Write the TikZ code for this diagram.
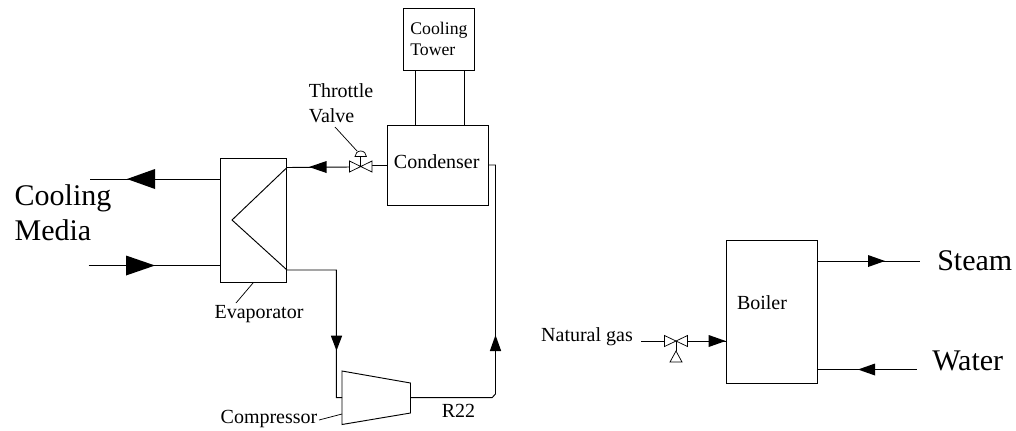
\documentclass[tikz,border=0pt]{standalone}
\usepackage{fontspec}
\setmainfont{Liberation Serif}
\usetikzlibrary{positioning}
\tikzset{
  unit/.style={draw, inner sep=0pt, line width=0.7pt},
  lbl/.style={inner sep=0pt, font=\fontsize{15}{19}\selectfont},
  biglbl/.style={inner sep=0pt, font=\fontsize{22.5}{26.5}\selectfont},
  pipe/.style={line width=0.7pt},
  thin line/.style={line width=0.55pt},
}
\begin{document}
\begin{tikzpicture}[x=0.75pt, y=-0.75pt]
    \useasboundingbox (0,0) rectangle (1016,430);
    % units
    \node[unit, minimum width=52.9pt, minimum height=46.5pt, align=left, font=\fontsize{13.3}{15.5}\selectfont, text width=43pt] (tower) at (439,39) {Cooling\\Tower};
    \node[unit, minimum width=75.4pt, minimum height=60pt] (condenser) at (438.2,165) {};
    \node[lbl] (condtext) at (436.7,161.5) {Condenser};
    \node[unit, minimum width=50pt, minimum height=93.6pt] (evaporator) at (253.6,220.4) {};
    \node[unit, minimum width=68.6pt, minimum height=107.2pt] (boiler) at (771.8,311.5) {};
    \node[lbl] (boilertext) at (762,303) {Boiler};
    % compressor
    \coordinate (CA) at (342,371);
    \coordinate (CB) at (410.5,383);
    \coordinate (CC) at (410.5,413);
    \coordinate (CD) at (342,424.5);
    \draw[pipe] (CA) -- (CB) -- (CC) -- (CD) -- cycle;
    % labels
    \node[lbl, align=left] (throttle) at (341,103) {Throttle\\Valve};
    \node[lbl] (evaptext) at (259,314.5) {Evaporator};
    \node[lbl] (comptext) at (269,418.5) {Compressor};
    \node[lbl] (r22) at (458.5,411) {R22};
    \node[lbl] (gas) at (587,336.5) {Natural gas};
    \node[biglbl, align=left] (media) at (63,213) {Cooling\\Media};
    \node[biglbl, anchor=west] (steam) at (937,261) {Steam};
    \node[biglbl, anchor=west] (water) at (932,361) {Water};
    % cooling water between tower and condenser
    \coordinate (TL) at (415,70);
    \coordinate (TR) at (464.5,70);
    \draw[pipe] (TL) -- (TL |- condenser.north);
    \draw[pipe] (TR) -- (TR |- condenser.north);
    % refrigerant loop
    \coordinate (EA) at (287,167.5);
    \coordinate (EB) at (232,220);
    \coordinate (EC) at (287,270);
    \coordinate (D1) at (336.3,270);
    \coordinate (D2) at (336.3,397.7);
    \coordinate (U1) at (492,397.7);
    \coordinate (U2) at (495.5,394);
    \coordinate (U3) at (495.5,165);
    \draw[pipe] (EA) -- (EB) -- (EC) -- (D1) -- (D2) -- (342,397.7);
    \draw[pipe] (410.5,397.7) -- (U1) -- (U2) -- (U3) -- (488.5,165);
    \draw[pipe] (EA) -- (349.5,167);
    \draw[pipe] (372,165.5) -- (388,165.5);
    % cooling media
    \coordinate (MA) at (90,179);
    \coordinate (MB) at (88.5,265.5);
    \draw[pipe] (MA) -- (MA -| evaporator.west);
    \draw[pipe] (MB) -- (MB -| evaporator.west);
    % boiler streams
    \coordinate (SE) at (920,261);
    \coordinate (WA) at (917,369.5);
    \coordinate (GS) at (641,341);
    \draw[pipe] (boiler.east |- SE) -- (SE);
    \draw[pipe] (boiler.east |- WA) -- (WA);
    \draw[pipe] (GS) -- (664.5,341);
    \draw[pipe] (687.5,341) -- (GS -| boiler.west);
    % valves
    \draw[thin line, fill=white] (349.5,161) -- (372,172) -- (372,161) -- (349.5,172) -- cycle;
    \draw[thin line] (360.7,166.7) -- (360.7,156);
    \draw[thin line] (355,156.5) arc (180:360:5.7 and 5.5) -- cycle;
    \draw[thin line, fill=white] (664.5,335.5) -- (687.5,346.5) -- (687.5,335.5) -- (664.5,346.5) -- cycle;
    \draw[thin line] (676,341) -- (676,351);
    \draw[thin line] (676,351) -- (670,362) -- (682,362) -- cycle;
    % leaders
    \draw[thin line] (335,127) -- (357,151);
    \draw[thin line] (253,283) -- (236,303);
    \draw[thin line] (319,420) -- (342,414);
    % flow arrows: tip x, tip y, rotation, length, half width
    \foreach \tx/\ty/\rot/\len/\wid in {309/167/180/17.5/6, 127/179/180/28/10, 155/265.5/0/29/10,
        336.5/350.7/-90/15/5.7, 495.5/335/90/16/5.7, 725.7/341/0/17/6,
        885/261/0/17/6, 858/369.5/180/17/6} {
      \fill[shift={(\tx,\ty)}, rotate=\rot] (0,0) -- (-\len,-\wid) -- (-\len,\wid) -- cycle;
    }
\end{tikzpicture}
\end{document}
